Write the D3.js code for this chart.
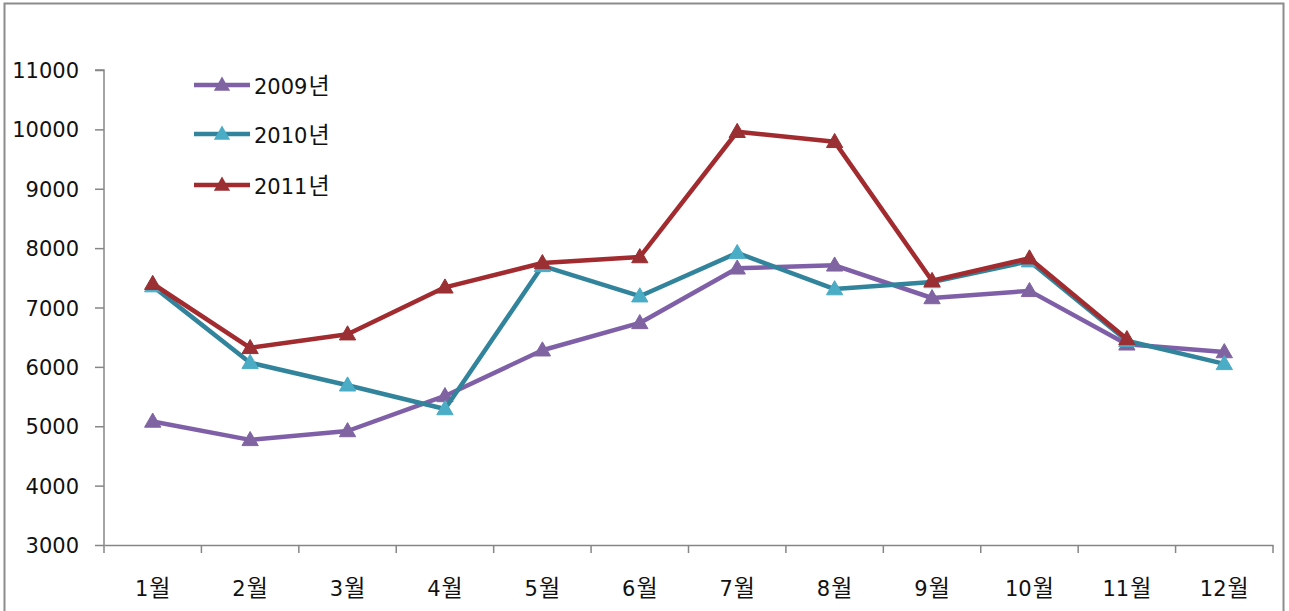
<!DOCTYPE html>
<html><head><meta charset="utf-8">
<script src="https://cdn.jsdelivr.net/npm/d3@7"></script>
<style>body{margin:0;background:#fff}svg{display:block}</style>
</head><body>
<svg id="c" width="1289" height="611"></svg>
<script>
const months = ["1월","2월","3월","4월","5월","6월","7월","8월","9월","10월","11월","12월"];
const seriesNames = ["2009년","2010년","2011년"];
const v2009 = [5080,4770,4920,5510,6280,6740,7660,7710,7160,7280,6380,6250];
const v2010 = [7360,6070,5690,5290,7700,7190,7920,7310,7430,7780,6440,6050];
const v2011 = [7400,6320,6550,7340,7750,7850,9960,9790,7450,7830,6470,null];
const yTicks = [3000,4000,5000,6000,7000,8000,9000,10000,11000];
const lineColors = ["#7F60A8","#31849B","#A12B2E"];
const markColors = ["#8064A2","#4BACC6","#9A3033"];

const svg = d3.select("#c");
const numFont = "'DejaVu Sans',sans-serif";
const krFont = "'Noto Sans CJK KR',sans-serif";
// split a label into digit part and Hangul part, rendered as tspans
function richLabel(sel){
  sel.each(function(){
    const t = d3.select(this); const s = t.text();
    const m = s.match(/^(\d+)(.*)$/);
    t.text(null);
    t.append("tspan").attr("font-family",numFont).attr("font-size",21).text(m[1]);
    t.append("tspan").attr("font-family",krFont).attr("font-size",23).attr("dx",1).text(m[2]);
  });
}
// outer frame
svg.append("rect").attr("x",4.5).attr("y",3.5).attr("width",1279).attr("height",620)
  .attr("fill","none").attr("stroke","#8c8c8c").attr("stroke-width",2);

const L=104, R=1273, T=70, B=545;
const x = d3.scaleBand().domain(months).range([L,R]).padding(0);
const y = d3.scaleLinear().domain([3000,11000]).range([B,T]);

// y axis
const ya = svg.append("g").attr("transform",`translate(${L},0)`)
  .call(d3.axisLeft(y).tickValues(yTicks).tickSize(9).tickPadding(16).tickFormat(d3.format("d")));
ya.select(".domain").attr("stroke","#868686").attr("stroke-width",1.5).attr("d",`M-9,${T}H0V${B}`);
ya.selectAll(".tick line").attr("stroke","#868686").attr("stroke-width",1.5);
ya.selectAll("text").attr("font-family",numFont).attr("font-size",21).attr("fill","#111").attr("dy","0.36em");

// x axis
const xa = svg.append("g").attr("transform",`translate(0,${B})`)
  .call(d3.axisBottom(x).tickSize(0).tickPadding(30));
xa.select(".domain").attr("stroke","#868686").attr("stroke-width",1.5);
xa.selectAll(".tick text").attr("fill","#111").attr("dy",null).attr("y",51).call(richLabel);
const bounds = months.map(m=>x(m)).concat([R]);
xa.selectAll(".bt").data(bounds).enter().append("line").attr("class","bt")
  .attr("x1",d=>d).attr("x2",d=>d).attr("y1",0).attr("y2",8)
  .attr("stroke","#868686").attr("stroke-width",1.5);

const cx = m => x(m)+x.bandwidth()/2;
const tri = d3.symbol().type(d3.symbolTriangle).size(115);
const data = [v2009,v2010,v2011];
const line = d3.line().defined(d=>d.v!=null).x(d=>cx(d.m)).y(d=>y(d.v));

data.forEach((vals,i)=>{
  const pts = months.map((m,j)=>({m,v:vals[j]}));
  const g = svg.append("g");
  g.append("path").datum(pts).attr("d",line).attr("fill","none")
    .attr("stroke",lineColors[i]).attr("stroke-width",4.5).attr("stroke-linejoin","round");
  g.selectAll("path.mk").data(pts.filter(d=>d.v!=null)).enter().append("path").attr("class","mk")
    .attr("d",tri).attr("transform",d=>`translate(${cx(d.m)},${y(d.v)+1})`)
    .attr("fill",markColors[i]).attr("stroke",markColors[i]).attr("stroke-width",1);
});

// legend
const legY = [85,134,185];
seriesNames.forEach((n,i)=>{
  const g = svg.append("g").attr("transform",`translate(0,${legY[i]})`);
  g.append("line").attr("x1",194).attr("x2",250).attr("y1",0).attr("y2",0)
    .attr("stroke",lineColors[i]).attr("stroke-width",4.5);
  g.append("path").attr("d",tri).attr("transform","translate(222,1)").attr("fill",markColors[i]);
  g.append("text").attr("x",254).attr("y",9).attr("fill","#111").text(n).call(richLabel);
});
</script>
</body></html>
